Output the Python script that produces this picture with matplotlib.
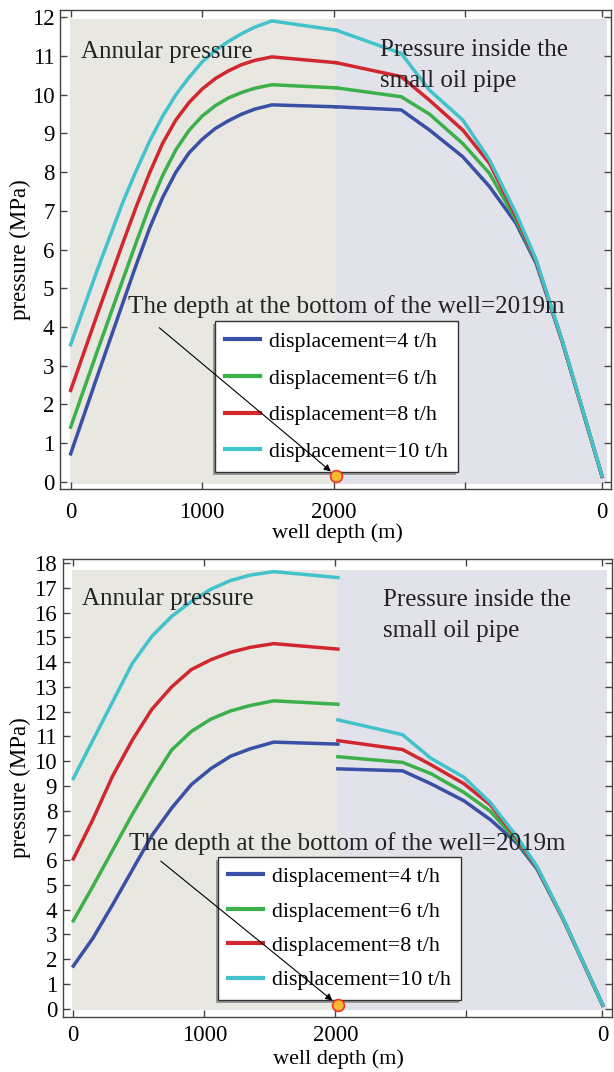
import matplotlib
matplotlib.use('Agg')
import matplotlib.pyplot as plt
from matplotlib.patches import Rectangle
from matplotlib.transforms import IdentityTransform

plt.rcParams['font.family'] = ['Liberation Serif', 'DejaVu Serif']

# 排量 (t/h) 과 색
rates = [4, 6, 8, 10]
colors = ['#3a50a6', '#3cb04a', '#d0282e', '#42c2ca']
labels = [f'displacement={r} t/h' for r in rates]

well_bottom = 2019
marker_y = 0.15

# 환공 압력 (annulus) - 위 그림
x_ann_top = [0, 200, 400, 500, 600, 700, 800, 900, 1000, 1100, 1200, 1300, 1400, 1530, 2019]
top_ann_4 = [0.72, 2.7, 4.65, 5.62, 6.55, 7.35, 8.0, 8.5, 8.85, 9.13, 9.33, 9.5, 9.63, 9.74, 9.69]
top_ann_6 = [1.41, 3.35, 5.25, 6.2, 7.12, 7.92, 8.58, 9.08, 9.45, 9.72, 9.92, 10.06, 10.17, 10.26, 10.18]
top_ann_8 = [2.36, 4.3, 6.2, 7.12, 7.98, 8.75, 9.35, 9.8, 10.15, 10.42, 10.62, 10.78, 10.89, 10.98, 10.83]
top_ann_10 = [3.54, 5.45, 7.25, 8.05, 8.8, 9.45, 10.0, 10.45, 10.85, 11.15, 11.38, 11.58, 11.75, 11.91, 11.67]

# 환공 압력 (annulus) - 아래 그림
x_ann_bot = [0, 150, 300, 450, 600, 750, 900, 1050, 1200, 1350, 1530, 2019]
bot_ann_4 = [1.72, 2.85, 4.2, 5.6, 7.0, 8.1, 9.05, 9.7, 10.2, 10.5, 10.77, 10.69]
bot_ann_6 = [3.55, 4.95, 6.4, 7.85, 9.2, 10.45, 11.2, 11.7, 12.03, 12.25, 12.44, 12.3]
bot_ann_8 = [6.05, 7.65, 9.4, 10.85, 12.1, 13.0, 13.7, 14.1, 14.4, 14.6, 14.75, 14.53]
bot_ann_10 = [9.3, 10.85, 12.4, 13.95, 15.05, 15.85, 16.45, 16.95, 17.3, 17.52, 17.66, 17.42]

# 소유관 내부 압력 (pipe), 두 그림 공통
x_pipe = [2019, 2513, 2728, 2981, 3184, 3386, 3538, 3740, 4040]
pipe_4 = [9.69, 9.61, 9.09, 8.40, 7.63, 6.68, 5.65, 3.59, 0.14]
pipe_6 = [10.18, 9.95, 9.50, 8.74, 7.97, 6.77, 5.70, 3.60, 0.14]
pipe_8 = [10.83, 10.47, 9.86, 9.09, 8.23, 6.86, 5.72, 3.60, 0.14]
pipe_10 = [11.67, 11.07, 10.12, 9.35, 8.32, 6.94, 5.75, 3.62, 0.15]

xtick_pos = [0, 1000, 2000, 3000, 4038]
xtick_lab = ['0', '1000', '2000', '', '0']

panels = [
    dict(x_ann=x_ann_top, ann=[top_ann_4, top_ann_6, top_ann_8, top_ann_10],
         yticks=range(0, 13), ylim=(-0.19, 12.19), rect=[0.0977, 0.5438, 0.8974, 0.4468],
         txt_ann=(76, 10.94), txt_pipe=(2349, 10.2), txt_note=(435, 4.35),
         arrow_from=(674, 3.98), leg=(0.7223, 0.0355), leg_sp=0.75, ylab_x=-0.053,
         xpad=9, xlab_y=-0.072),
    dict(x_ann=x_ann_bot, ann=[bot_ann_4, bot_ann_6, bot_ann_8, bot_ann_10],
         yticks=range(0, 19), ylim=(-0.33, 18.16), rect=[0.1021, 0.0515, 0.894, 0.4268],
         txt_ann=(63, 16.33), txt_pipe=(2361, 15.0), txt_note=(426, 6.43),
         arrow_from=(668, 5.96), leg=(0.725, 0.0362), leg_sp=0.64, ylab_x=-0.058,
         xpad=6, xlab_y=-0.0705),
]
pipes = [pipe_4, pipe_6, pipe_8, pipe_10]

fig = plt.figure(figsize=(6.14, 10.72), dpi=100)
legends = []

for p in panels:
    ax = fig.add_axes(p['rect'])
    ymax = max(max(a) for a in p['ann'] + pipes) + 0.05
    ax.fill_between([-8, well_bottom], -0.05, ymax, color='#e8e7e1', lw=0, zorder=0)
    ax.fill_between([well_bottom, 4075], -0.05, ymax, color='#e2e3ea', lw=0, zorder=0)

    for ann, pipe, c, lab in zip(p['ann'], pipes, colors, labels):
        ax.plot(p['x_ann'], ann, color=c, lw=2.5, label=lab, zorder=2)
        ax.plot(x_pipe, pipe, color=c, lw=2.5, zorder=2)

    ax.set_xlim(-81, 4108)
    ax.set_ylim(*p['ylim'])
    ax.set_xticks(xtick_pos)
    ax.set_xticklabels(xtick_lab)
    ax.set_yticks(list(p['yticks']))
    ax.tick_params(direction='in', top=True, right=True, length=5, width=1,
                   color='#444444', labelsize=16.5)
    ax.tick_params(axis='x', pad=p['xpad'])
    ax.tick_params(axis='y', pad=4)
    for s in ax.spines.values():
        s.set_color('#444444')
        s.set_linewidth(1)

    ax.set_xlabel('well depth (m)', fontsize=16)
    ax.set_ylabel('pressure (MPa)', fontsize=16.5)
    ax.xaxis.set_label_coords(0.503, p['xlab_y'])
    ax.yaxis.set_label_coords(p['ylab_x'], 0.5)

    ax.text(*p['txt_ann'], 'Annular pressure', fontsize=18, color='#222222',
            ha='left', va='baseline')
    ax.text(*p['txt_pipe'], 'Pressure inside the\nsmall oil pipe', fontsize=18,
            color='#222222', ha='left', va='baseline', linespacing=1.55)
    ax.text(*p['txt_note'], 'The depth at the bottom of the well=2019m', fontsize=18,
            color='#222222', ha='left', va='baseline', zorder=6)

    leg = ax.legend(loc='lower right', bbox_to_anchor=p['leg'], borderaxespad=0,
                    fancybox=False, shadow=False, edgecolor='#333333', framealpha=1,
                    handlelength=1.6, handletextpad=0.4, labelspacing=p['leg_sp'],
                    borderpad=0.45, fontsize=15.8)
    leg.get_frame().set_linewidth(1)
    for h in leg.get_lines():
        h.set_linewidth(3)
    legends.append((ax, leg))

    ax.annotate('', xy=(well_bottom, marker_y), xytext=p['arrow_from'],
                arrowprops=dict(arrowstyle='-|>', color='black', lw=0.8,
                                shrinkA=0, shrinkB=5, mutation_scale=10),
                zorder=6)
    ax.plot([well_bottom], [marker_y], 'o', ms=8.5, mfc='#f6b830', mec='#e8362a',
            mew=1.2, zorder=7, clip_on=False)

# 범례 그림자 (왼쪽 아래로)
fig.canvas.draw()
for ax, leg in legends:
    bb = leg.get_frame().get_window_extent()
    ax.add_patch(Rectangle((bb.x0 - 2, bb.y0 - 3), bb.width, bb.height,
                           transform=IdentityTransform(), facecolor='#9a9a9a',
                           edgecolor='none', zorder=4.9, clip_on=False))

fig.savefig('out.png', dpi=100)
